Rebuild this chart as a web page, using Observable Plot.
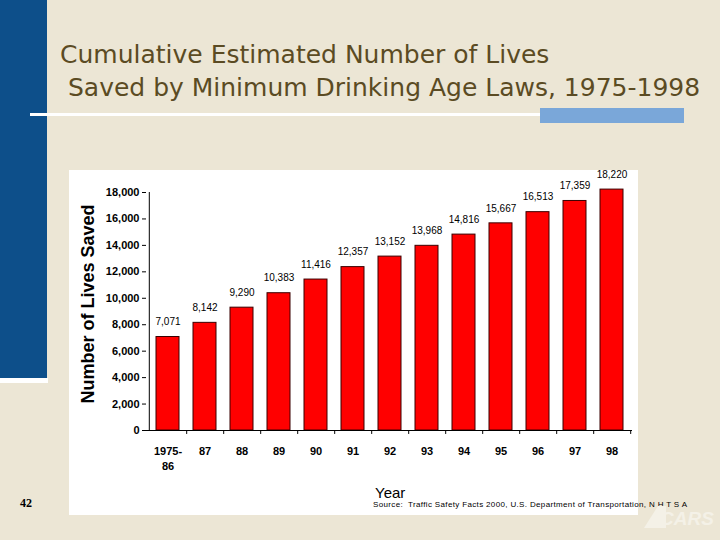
<!DOCTYPE html>
<html>
<head>
<meta charset="utf-8">
<script src="https://cdn.jsdelivr.net/npm/d3@7"></script>
<script src="https://cdn.jsdelivr.net/npm/@observablehq/plot@0.6"></script>
<style>
  html, body { margin: 0; padding: 0; }
  #slide { position: relative; width: 720px; height: 540px; background: #ece6d5; overflow: hidden; }
  .abs { position: absolute; }
  .title { font-family: "DejaVu Sans", sans-serif; font-size: 25px; line-height: 25px; color: #5b4b23; white-space: pre; }
  #panel { left: 69px; top: 170px; width: 569px; height: 345px; background: #fff; }
  #ylabel { left: 88px; top: 304px; width: 0; height: 0; }
  #ylabel span { position: absolute; left: 0; top: 0; transform: translate(-50%, -50%) rotate(-90deg); white-space: nowrap; font: bold 18px "Liberation Sans", Arial, sans-serif; color: #000; }
  #year { left: 375px; top: 484px; font: 15px "Liberation Sans", Arial, sans-serif; color: #000; }
  #source { left: 373px; top: 500px; font: 8px "Liberation Sans", Arial, sans-serif; letter-spacing: 0.35px; color: #000; white-space: pre; }
  #num { left: 20px; top: 496px; font: bold 12px "Liberation Serif", "Times New Roman", serif; color: #000; }
  #logo { left: 660px; top: 508px; font: italic bold 19px "Liberation Sans", Arial, sans-serif; color: #f4f1e7; }
</style>
</head>
<body>
<div id="slide">
  <div class="abs" style="left:0;top:0;width:47px;height:378px;background:#0d4f8a"></div>
  <div class="abs" style="left:0;top:378px;width:48px;height:5px;background:#fff"></div>
  <div class="abs title" style="left:60px;top:42px">Cumulative Estimated Number of Lives</div>
  <div class="abs title" style="left:60px;top:75px"> Saved by Minimum Drinking Age Laws, 1975-1998</div>
  <div class="abs" style="left:30px;top:113px;width:510px;height:3px;background:#fff"></div>
  <div class="abs" style="left:540px;top:108px;width:144px;height:15px;background:#7aa7d9"></div>
  <div class="abs" id="panel"></div>
  <div class="abs" id="ylabel"><span>Number of Lives Saved</span></div>
  <div class="abs" id="year">Year</div>
  <div class="abs" id="source">Source:  Traffic Safety Facts 2000, U.S. Department of Transportation, N H T S A</div>
  <div class="abs" id="num">42</div>
  <svg class="abs" style="left:636px;top:500px" width="30" height="30"><polygon points="8,28 22,6 30,6 30,28" fill="#f4f1e7"/></svg>
  <div class="abs" id="logo">CARS</div>
</div>
<script>
// Cumulative lives saved by minimum drinking age laws
const years = ["1975-\n86", "87", "88", "89", "90", "91", "92", "93", "94", "95", "96", "97", "98"];
const livesSaved = [7071, 8142, 9290, 10383, 11416, 12357, 13152, 13968, 14816, 15667, 16513, 17359, 18220];
const yTicks = [0, 2000, 4000, 6000, 8000, 10000, 12000, 14000, 16000, 18000];

const data = years.map((year, i) => ({year, lives: livesSaved[i]}));

const W = 569, H = 345;
const mL = 77, mR = 6, mT = 22, mB = 85;
const step = (W - mL - mR) / years.length;
const font = "'Liberation Sans', Arial, sans-serif";

const chart = Plot.plot({
  width: W,
  height: H,
  marginLeft: mL,
  marginRight: mR,
  marginTop: mT,
  marginBottom: mB,
  style: {background: "#fff", fontFamily: font, color: "#000", overflow: "visible"},
  x: {domain: years, paddingInner: 0.38, paddingOuter: 0.19, label: null},
  y: {domain: [0, 18000], label: null},
  marks: [
    Plot.barY(data, {x: "year", y: "lives", fill: "#ff0000", stroke: "#3a0000", strokeWidth: 1}),
    Plot.text(data, {x: "year", y: "lives", text: d => d3.format(",")(d.lives), dy: -15, fontSize: 10, fill: "#000"}),
    // axis lines and band-boundary ticks
    Plot.ruleY([0], {stroke: "#000"}),
    Plot.ruleX(years.slice(0, 1), {x: d => d, y1: 0, y2: 18000, dx: -step / 2, stroke: "#000"}),
    Plot.ruleX(years, {x: d => d, y1: 0, y2: -300, dx: step / 2, stroke: "#000"}),
    Plot.axisY({ticks: yTicks, tickFormat: d3.format(","), tickSize: 4, tickPadding: 3, fontSize: 11, fontWeight: "bold", label: null}),
    Plot.axisX({tickSize: 0, tickPadding: 14, fontSize: 11, fontWeight: "bold", lineHeight: 1.35, label: null})
  ]
});

document.getElementById("panel").appendChild(chart);
</script>
</body>
</html>
